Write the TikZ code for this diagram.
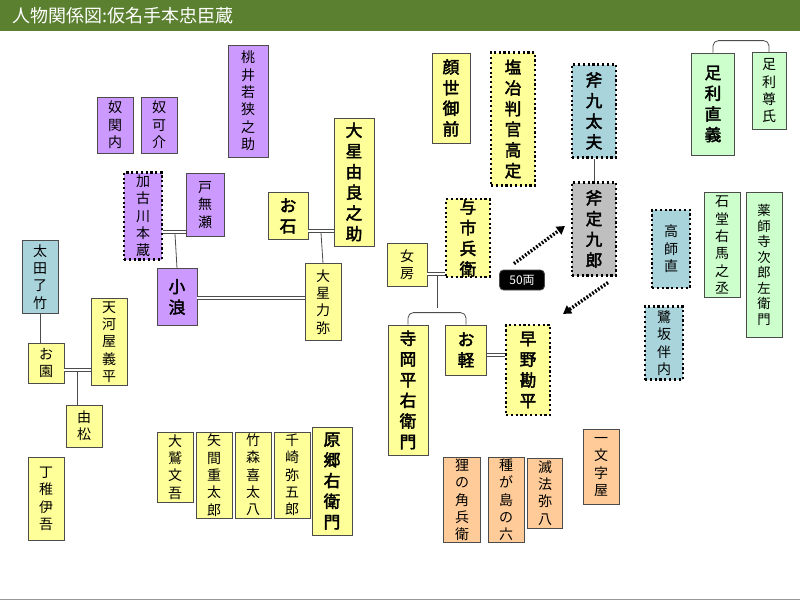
\documentclass[tikz,border=0pt]{standalone}
\usepackage{fontspec}
\setmainfont{Noto Sans CJK JP}
\newfontfamily\jpb[FakeBold=2.5]{Noto Sans CJK JP}
\usetikzlibrary{arrows.meta,calc}
\definecolor{ttl}{HTML}{5B8030}
\definecolor{pu}{HTML}{CC99FF}
\definecolor{ye}{HTML}{FFFF99}
\definecolor{bl}{HTML}{A9D4DC}
\definecolor{gr}{HTML}{CCFFCC}
\definecolor{or}{HTML}{FFCC99}
\definecolor{gy}{HTML}{BFBFBF}
\tikzset{
  box/.style 2 args={draw=black!70, line width=0.6pt, inner sep=0pt, align=center,
    minimum width=#1*0.75pt, minimum height=#2*0.75pt, font=\fontsize{10.5}{13}\selectfont},
  big/.style={font=\jpb\fontsize{12.5}{15.5}\selectfont},
  dot/.style={draw=black, line width=1.6pt, dotted},
  link/.style={draw=black!70, line width=0.6pt},
  wed/.style={draw=black!70, line width=0.6pt, double, double distance=2pt},
  cash/.style={line width=2.6pt, dash pattern=on 1.3pt off 1.3pt, -{Triangle[length=6pt,width=7pt]}}
}
\begin{document}
\begin{tikzpicture}[x=0.75pt,y=-0.75pt]
\useasboundingbox (0,0) rectangle (800,600);
\fill[ttl] (0,0) rectangle (800,31);
\node[anchor=west, text=white, font=\fontsize{13.5}{16}\selectfont] (title) at (8,16) {人物関係図:仮名手本忠臣蔵};
\draw[black!40] (0,599.5) -- (800,599.5);

% purple
\node[box={36}{56}, fill=pu] (sekinai) at (115,125) {奴\\関\\内};
\node[box={36}{56}, fill=pu] (kasuke) at (159,125) {奴\\可\\介};
\node[box={40}{112}, fill=pu] (wakasa) at (248,101) {桃\\井\\若\\狭\\之\\助};
\node[box={38}{87}, fill=pu, dot] (honzo) at (143,216) {加\\古\\川\\本\\蔵};
\node[box={38}{63}, fill=pu] (tonase) at (205,205) {戸\\無\\瀬};
\node[box={40}{57}, fill=pu, big] (konami) at (177,297) {小\\浪};

% yellow, left
\node[box={40}{128}, fill=ye, big] (yura) at (354,182) {大\\星\\由\\良\\之\\助};
\node[box={40}{47}, fill=ye, big] (oishi) at (288,216) {お\\石};
\node[box={36}{77}, fill=ye] (rikiya) at (323,302) {大\\星\\力\\弥};
\node[box={36}{73}, fill=bl] (ryochiku) at (40,277) {太\\田\\了\\竹};
\node[box={36}{40}, fill=ye] (osono) at (46,363) {お\\園};
\node[box={36}{87}, fill=ye] (gihei) at (109,342) {天\\河\\屋\\義\\平};
\node[box={36}{42}, fill=ye] (yoshimatsu) at (84,426) {由\\松};
\node[box={36}{83}, fill=ye] (igo) at (46,499) {丁\\稚\\伊\\吾};
\node[box={36}{70}, fill=ye] (bungo) at (175,467) {大\\鷲\\文\\吾};
\node[box={36}{86}, fill=ye] (jutaro) at (214,475) {矢\\間\\重\\太\\郎};
\node[box={36}{86}, fill=ye] (kitahachi) at (253,475) {竹\\森\\喜\\太\\八};
\node[box={36}{86}, fill=ye] (yagoro) at (292,475) {千\\崎\\弥\\五\\郎};
\node[box={40}{108}, fill=ye, big] (goemon) at (332,481) {原\\郷\\右\\衛\\門};

% yellow, middle
\node[box={38}{90}, fill=ye, big] (kaoyo) at (451,98) {顔\\世\\御\\前};
\node[box={44}{133}, fill=ye, big, dot] (hangan) at (513,119) {塩\\冶\\判\\官\\高\\定};
\node[box={44}{93}, fill=bl, big, dot] (kudayu) at (594,111) {斧\\九\\太\\夫};
\node[box={44}{93}, fill=gy, big, dot] (sadakuro) at (594,229) {斧\\定\\九\\郎};
\node[box={44}{65}, fill=ye, big, dot] (yoichi) at (468,238) {与\\市\\兵\\衛};
\node[box={40}{43}, fill=ye] (nyobo) at (407,265) {女\\房};
\node[box={45}{20}, fill=black, text=white, rounded corners=3pt, font=\fontsize{9}{11}\selectfont] (ryo) at (522,280) {50両};
\node[box={40}{130}, fill=ye, big] (heiemon) at (408,390) {寺\\岡\\平\\右\\衛\\門};
\node[box={41}{50}, fill=ye, big] (okaru) at (466,350) {お\\軽};
\node[box={44}{90}, fill=ye, big, dot] (kanpei) at (528,370) {早\\野\\勘\\平};

% orange
\node[box={37}{85}, fill=or] (kakubei) at (462,500) {狸\\の\\角\\兵\\衛};
\node[box={36}{85}, fill=or] (roku) at (506,500) {種\\が\\島\\の\\六};
\node[box={35}{70}, fill=or] (yahachi) at (545,493) {滅\\法\\弥\\八};
\node[box={36}{75}, fill=or] (ichimonji) at (601,467) {一\\文\\字\\屋};

% right
\node[box={43}{102}, fill=gr, big] (tadayoshi) at (713,104) {足\\利\\直\\義};
\node[box={34}{77}, fill=gr] (takauji) at (769,91) {足\\利\\尊\\氏};
\node[box={36}{105}, fill=gr] (umanojo) at (722,245) {石\\堂\\右\\馬\\之\\丞};
\node[box={36}{145}, fill=gr, font=\fontsize{10}{11.6}\selectfont] (yakushiji) at (764,265) {薬\\師\\寺\\次\\郎\\左\\衛\\門};
\node[box={38}{78}, fill=bl, dot] (moronao) at (671,249) {高\\師\\直};
\node[box={38}{73}, fill=bl, dot] (bannai) at (664,343) {鷺\\坂\\伴\\内};

% links
\draw[link, rounded corners=4pt] (tadayoshi.north) -- ++(0,-12) -| (takauji.north);
\draw[link] (kudayu) -- (sadakuro);
\draw[cash] ($(ryo.north)+(-8,-6)$) -- ($(sadakuro.west)+(-6,-3)$);
\draw[cash] ($(sadakuro.south)+(14,6)$) -- ($(kanpei.north east)+(12,-10)$);
\draw[wed] (nyobo.east |- 0,274) -- (yoichi.west |- 0,274);
\draw[link] (437,276) -- (437,308);
\draw[link, rounded corners=4pt] (heiemon.north) -- ++(0,-12) -| (okaru.north);
\draw[wed] (okaru.east |- 0,355) -- (kanpei.west |- 0,355);
\draw[wed] (oishi.east |- 0,231) -- (yura.west |- 0,231);
\draw[link] (321,233) -- (rikiya.north);
\draw[wed] (honzo.east |- 0,232) -- (tonase.west |- 0,232);
\draw[link] (175,234) -- (konami.north);
\draw[wed] (konami.east |- 0,298) -- (rikiya.west |- 0,298);
\draw[link] (ryochiku) -- (osono.north -| ryochiku);
\draw[wed] (osono.east |- 0,370) -- (gihei.west |- 0,370);
\draw[link] (77,372) -- (77,405);
\end{tikzpicture}
\end{document}
